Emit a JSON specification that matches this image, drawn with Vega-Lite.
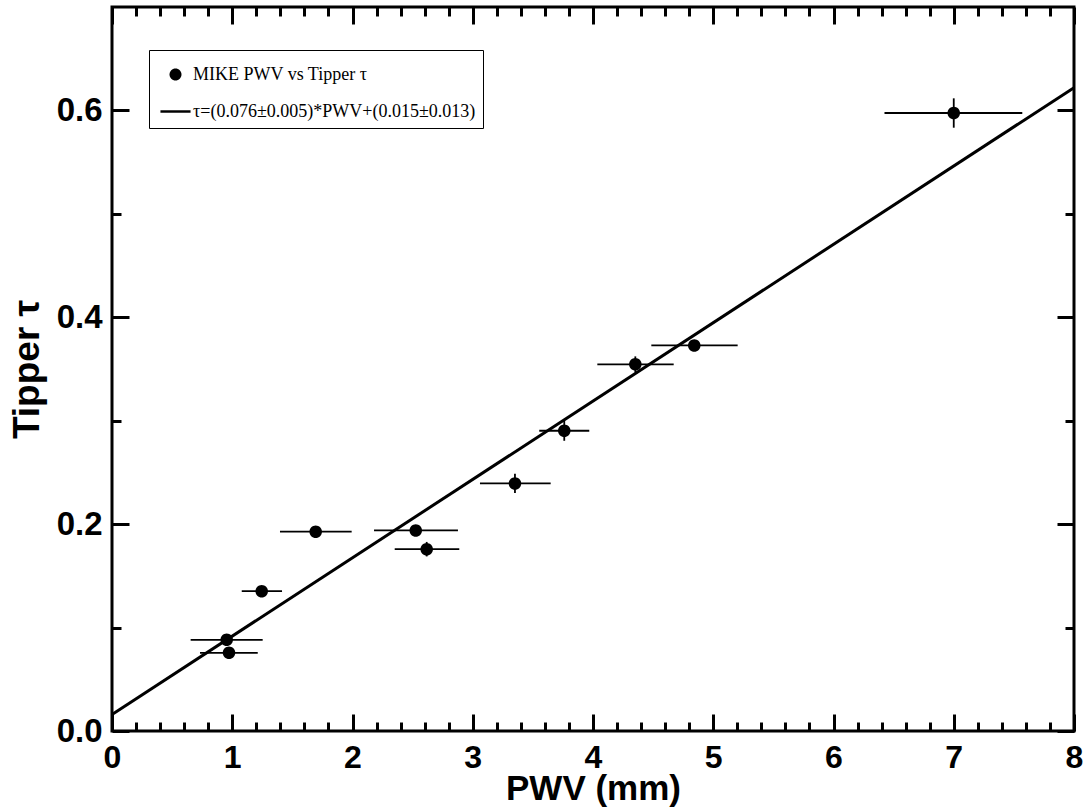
{
  "$schema": "https://vega.github.io/schema/vega-lite/v6.json",
  "width": 962,
  "height": 724,
  "autosize": {"type": "none"},
  "padding": {"left": 112, "top": 7, "right": 13, "bottom": 81},
  "background": "white",
  "config": {
    "view": {"stroke": "black", "strokeWidth": 3},
    "axis": {
      "domain": false, "grid": false,
      "labelFont": "Liberation Sans", "labelFontWeight": "bold", "labelFontSize": 32, "labelColor": "black",
      "titleFont": "Liberation Sans", "titleFontWeight": "bold", "titleFontSize": 35, "titleColor": "black",
      "tickColor": "black", "tickWidth": 3, "labelFlush": false, "labelOverlap": false
    }
  },
  "datasets": {
    "pts": [
      {"pwv": 0.954, "tau": 0.0882, "xlo": 0.654, "xhi": 1.253, "ylo": 0.0852, "yhi": 0.0912},
      {"pwv": 0.973, "tau": 0.0756, "xlo": 0.732, "xhi": 1.212, "ylo": 0.0726, "yhi": 0.0786},
      {"pwv": 1.245, "tau": 0.1352, "xlo": 1.079, "xhi": 1.414, "ylo": 0.1322, "yhi": 0.1382},
      {"pwv": 1.694, "tau": 0.1927, "xlo": 1.397, "xhi": 1.993, "ylo": 0.1897, "yhi": 0.1957},
      {"pwv": 2.526, "tau": 0.1939, "xlo": 2.179, "xhi": 2.877, "ylo": 0.1909, "yhi": 0.1969},
      {"pwv": 2.617, "tau": 0.1758, "xlo": 2.351, "xhi": 2.888, "ylo": 0.1688, "yhi": 0.1828},
      {"pwv": 3.351, "tau": 0.2394, "xlo": 3.06, "xhi": 3.648, "ylo": 0.23, "yhi": 0.2488},
      {"pwv": 3.761, "tau": 0.2903, "xlo": 3.553, "xhi": 3.969, "ylo": 0.2806, "yhi": 0.3},
      {"pwv": 4.352, "tau": 0.3545, "xlo": 4.036, "xhi": 4.671, "ylo": 0.3468, "yhi": 0.3622},
      {"pwv": 4.842, "tau": 0.3728, "xlo": 4.485, "xhi": 5.203, "ylo": 0.3678, "yhi": 0.3778},
      {"pwv": 7.0, "tau": 0.5975, "xlo": 6.424, "xhi": 7.57, "ylo": 0.5833, "yhi": 0.6117}
    ],
    "fit": [
      {"pwv": 0, "tau": 0.016},
      {"pwv": 8, "tau": 0.622}
    ]
  },
  "resolve": {"axis": {"x": "independent", "y": "independent"}},
  "layer": [
    {
      "data": {"name": "fit"},
      "mark": {"type": "line", "color": "black", "strokeWidth": 3, "clip": true},
      "encoding": {
        "x": {"field": "pwv", "type": "quantitative", "scale": {"domain": [0, 8], "nice": false, "zero": false},
          "axis": {"orient": "bottom", "values": [0,1,2,3,4,5,6,7,8], "format": "d", "tickSize": -17, "labelPadding": 28, "title": "PWV (mm)", "titlePadding": -2}},
        "y": {"field": "tau", "type": "quantitative", "scale": {"domain": [0, 0.7], "nice": false, "zero": false},
          "axis": {"orient": "left", "values": [0, 0.2, 0.4, 0.6], "format": ".1f", "tickSize": -17, "labelPadding": 27, "labelFontSize": 33, "title": "Tipper τ", "titleFontSize": 37, "titlePadding": 10}}
      }
    },
    {
      "data": {"name": "pts"},
      "mark": {"type": "rule", "color": "black", "strokeWidth": 1.8},
      "encoding": {
        "x": {"field": "xlo", "type": "quantitative", "scale": {"domain": [0, 8], "nice": false, "zero": false},
          "axis": {"orient": "top", "values": [0,1,2,3,4,5,6,7,8], "tickSize": -17, "labels": false, "title": null}},
        "x2": {"field": "xhi"},
        "y": {"field": "tau", "type": "quantitative", "scale": {"domain": [0, 0.7], "nice": false, "zero": false},
          "axis": {"orient": "right", "values": [0, 0.2, 0.4, 0.6], "tickSize": -17, "labels": false, "title": null}}
      }
    },
    {
      "data": {"name": "pts"},
      "mark": {"type": "rule", "color": "black", "strokeWidth": 1.8},
      "encoding": {
        "x": {"field": "pwv", "type": "quantitative", "scale": {"domain": [0, 8], "nice": false, "zero": false},
          "axis": {"orient": "bottom", "values": [0.2,0.4,0.6,0.8,1.2,1.4,1.6,1.8,2.2,2.4,2.6,2.8,3.2,3.4,3.6,3.8,4.2,4.4,4.6,4.8,5.2,5.4,5.6,5.8,6.2,6.4,6.6,6.8,7.2,7.4,7.6,7.8], "tickSize": -9, "labels": false, "title": null}},
        "y": {"field": "ylo", "type": "quantitative", "scale": {"domain": [0, 0.7], "nice": false, "zero": false},
          "axis": {"orient": "left", "values": [0.1, 0.3, 0.5], "tickSize": -9, "labels": false, "title": null}},
        "y2": {"field": "yhi"}
      }
    },
    {
      "data": {"name": "pts"},
      "mark": {"type": "point", "filled": true, "color": "black", "opacity": 1, "size": 1330},
      "encoding": {
        "x": {"field": "pwv", "type": "quantitative", "scale": {"domain": [0, 8], "nice": false, "zero": false},
          "axis": {"orient": "top", "values": [0.2,0.4,0.6,0.8,1.2,1.4,1.6,1.8,2.2,2.4,2.6,2.8,3.2,3.4,3.6,3.8,4.2,4.4,4.6,4.8,5.2,5.4,5.6,5.8,6.2,6.4,6.6,6.8,7.2,7.4,7.6,7.8], "tickSize": -9, "labels": false, "title": null}},
        "y": {"field": "tau", "type": "quantitative", "scale": {"domain": [0, 0.7], "nice": false, "zero": false},
          "axis": {"orient": "right", "values": [0.1, 0.3, 0.5], "tickSize": -9, "labels": false, "title": null}},
        "shape": {
          "datum": "MIKE PWV vs Tipper τ", "type": "nominal",
          "scale": {
            "domain": ["MIKE PWV vs Tipper τ", "τ=(0.076±0.005)*PWV+(0.015±0.013)"],
            "range": [
              "M0.343,0A0.343,0.343,0,1,1,-0.343,0A0.343,0.343,0,1,1,0.343,0Z",
              "M-0.86,-0.071H0.86V0.071H-0.86Z"
            ]
          },
          "legend": {
            "title": null, "orient": "none", "legendX": 37, "legendY": 43,
            "strokeColor": "black", "fillColor": "white", "padding": 7,
            "symbolSize": 1225, "symbolOffset": 2,
            "symbolFillColor": "black", "symbolStrokeColor": "black", "symbolStrokeWidth": 0,
            "labelFont": "Liberation Serif", "labelFontSize": 18, "labelFontWeight": "normal", "labelColor": "black",
            "labelLimit": 1000, "labelOffset": 0, "rowPadding": 10
          }
        }
      }
    }
  ]
}
